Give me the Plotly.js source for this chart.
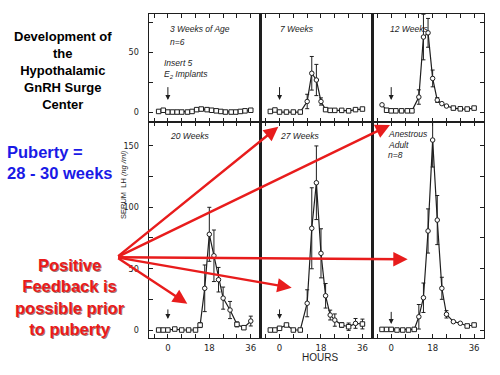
<!DOCTYPE html>
<html>
<head>
<meta charset="utf-8">
<script src="https://cdn.plot.ly/plotly-3.0.1.min.js"></script>
<style>html,body{margin:0;padding:0;background:#fff}#chart{width:500px;height:375px}</style>
</head>
<body>
<div id="chart"></div>
<script>
// ---- data (hours after E2 implant, serum LH ng/ml) ----
const panelTitles = ["3 Weeks of Age", "7 Weeks", "12 Weeks", "20 Weeks", "27 Weeks", "Anestrous"];

const w3Hours = [-4, -2, 0, 2, 4, 6, 8.5, 10.5, 12.5, 14.5, 17, 19, 21, 23, 25, 27.5, 29.5, 31.5, 33.5, 36];
const w3LH    = [0.5, 1.5, 0, 0, 0, 0, 0, 0.5, 2, 2.5, 2, 1.5, 1, 0.5, 0, 0, 0, 0.5, 1, 1.5];
const w3Err   = [0, 0, 0, 0, 0, 0, 0, 0, 0, 0, 0, 0, 0, 0, 0, 0, 0, 0, 0, 0];

const w7Hours = [-4, -2, 0, 3, 6, 9, 12, 14, 16, 18, 20, 22, 24, 27, 30, 33, 36];
const w7LH    = [0.5, 1.7, 0, 0, 0, 0, 8.8, 32.3, 26.7, 8.8, 2, 1.4, 1.4, 1.4, 1, 2, 2.5];
const w7Err   = [0, 0, 0, 0, 0, 0, 6, 14, 13, 3, 1, 0, 0, 0, 0, 0, 0];

const w12Hours = [-4, -2, 0, 2, 4.5, 7, 9, 12, 14, 16, 18, 20, 22, 24, 27, 30, 33, 36];
const w12LH    = [6, 1.5, 1, 1, 1, 1, 1, 12.5, 62.5, 66, 28, 10, 7, 5, 3.3, 2.7, 2.5, 3.3];
const w12Err   = [0, 0, 0, 0, 0, 0, 0, 6, 19, 12, 7, 2, 0, 0, 0, 0, 0, 0];

const w20Hours = [-4, -2, 0, 3, 6, 9, 12, 14, 16, 18, 20, 22, 24, 27, 30, 33, 36];
const w20LH    = [0, 0, 0, 0.8, 0, 0, 0, 4, 34, 78, 60.5, 41, 26, 16.3, 4.6, 1.9, 7.3];
const w20Err   = [0, 0, 0, 0, 0, 0, 0, 2, 19, 22, 21, 10, 9, 7, 2, 1, 4];

const w27Hours = [-4, -2, 0, 3, 6, 9, 12, 14, 16, 18, 20, 22, 24, 27, 30, 33, 36];
const w27LH    = [0, 0, 1.4, 4.1, 0, 0, 21.8, 82.9, 120, 62.5, 27.9, 12.2, 8.1, 4.1, 2.7, 5.4, 4.9];
const w27Err   = [0, 0, 0, 0, 0, 0, 11, 33, 30, 20, 10, 4, 5, 2, 3, 4, 4];

const adultHours = [-4, -2, 0, 2.5, 5, 7.5, 10, 12, 14, 16, 18, 20, 22, 24, 27, 30, 33, 36];
const adultLH    = [0.5, 0.5, 0.5, 0, 0, 0, 0.5, 10.8, 26.3, 80.7, 154.8, 89.6, 34, 12.8, 6.8, 5.5, 3.3, 4.1];
const adultErr   = [0, 0, 0, 0, 0, 0, 0, 10, 12, 18, 22, 20, 9, 3, 0, 0, 0, 0];

const xTickVals = [-6, 0, 6, 12, 18, 24, 30, 36];
const xTickText = ["", "0", "", "", "18", "", "", "36"];
const yTopVals = [0, 25, 50, 75];
const yTopText = ["0", "", "50", ""];
const yBotVals = [0, 25, 50, 75, 100, 125, 150];
const yBotText = ["0", "", "50", "", "100", "", "150"];

// ---- build ----
const series = [
  [w3Hours, w3LH, w3Err], [w7Hours, w7LH, w7Err], [w12Hours, w12LH, w12Err],
  [w20Hours, w20LH, w20Err], [w27Hours, w27LH, w27Err], [adultHours, adultLH, adultErr]
];
const INK = '#1e1e1e';
const NARROW = 'Liberation Sans Narrow, DejaVu Sans Condensed, Arial Narrow, Liberation Sans, sans-serif';
const traces = series.map((s, i) => ({
  type: 'scatter', mode: 'lines+markers',
  x: s[0], y: s[1],
  xaxis: i === 0 ? 'x' : 'x' + (i + 1),
  yaxis: i === 0 ? 'y' : 'y' + (i + 1),
  line: {color: INK, width: 1.2},
  marker: {symbol: s[1].map(v => v < 5 ? 'square' : 'circle'), size: 4.5, color: '#fff', line: {color: INK, width: 1}},
  error_y: {type: 'data', array: s[2], visible: true, color: INK, thickness: 1, width: 2},
  cliponaxis: false, hoverinfo: 'skip'
}));

const L = 149, T = 14, W = 335, H = 324;
const P = (px, py) => ({x: (px - L) / W, y: (T + H - py) / H});

const layout = {
  width: 500, height: 375,
  margin: {l: L, r: 500 - L - W, t: T, b: 375 - T - H},
  paper_bgcolor: '#fff', plot_bgcolor: '#fff',
  showlegend: false,
  font: {family: 'Liberation Sans, Arial, sans-serif', color: INK},
  annotations: []
};

for (let i = 0; i < 6; i++) {
  const c = i % 3, r = Math.floor(i / 3), n = i === 0 ? '' : String(i + 1);
  layout['xaxis' + n] = {
    domain: [c / 3, (c + 1) / 3], anchor: 'y' + n, range: [-8.2, 40.3],
    tickmode: 'array', tickvals: xTickVals, ticktext: xTickText,
    showticklabels: r === 1, ticks: 'inside', ticklen: 4, tickwidth: 1, tickcolor: INK,
    mirror: 'allticks', showline: true, linewidth: 1.3, linecolor: INK,
    showgrid: false, zeroline: false, fixedrange: true,
    tickfont: {size: 9.5, color: INK, family: NARROW}
  };
  layout['yaxis' + n] = {
    domain: r === 0 ? [2 / 3, 1] : [0, 2 / 3], anchor: 'x' + n,
    range: r === 0 ? [-8.3, 81.7] : [-6.5, 169.5],
    tickmode: 'array', tickvals: r === 0 ? yTopVals : yBotVals, ticktext: r === 0 ? yTopText : yBotText,
    side: c === 2 ? 'right' : 'left',
    showticklabels: c === 0, ticks: c === 1 ? '' : 'inside', ticklen: 4, tickwidth: 1, tickcolor: INK,
    ticklabelstandoff: 7,
    mirror: true, showline: true, linewidth: 1.3, linecolor: INK,
    showgrid: false, zeroline: false, fixedrange: true,
    tickfont: {size: 9, color: INK, family: NARROW}
  };
  // implant arrow at hour 0
  const tail = r === 0 ? 22 : (c === 2 ? 16 : 18);
  const tip = r === 0 ? 10 : (c === 2 ? 5 : 9);
  layout.annotations.push({
    xref: 'x' + n, yref: 'y' + n, axref: 'x' + n, ayref: 'y' + n,
    x: 0, y: tip, ax: 0, ay: tail, text: '', showarrow: true,
    arrowhead: 2, arrowsize: 1, arrowwidth: 1, arrowcolor: INK, standoff: 0
  });
}

function txt(px, py, text, opts) {
  const p = P(px, py);
  layout.annotations.push(Object.assign({
    xref: 'paper', yref: 'paper', x: p.x, y: p.y, text: text, showarrow: false,
    xanchor: 'left', yanchor: 'middle', font: {size: 9, color: INK}
  }, opts || {}));
}

// panel labels
const lab = {font: {size: 8.5, color: INK, family: 'Liberation Sans, Arial, sans-serif'}};
txt(168, 29, '<i>' + panelTitles[0] + '</i>', lab);
txt(168, 42, '<i>n=6</i>', lab);
txt(162, 63, '<i>Insert 5</i>', lab);
txt(162, 74, '<i>E<sub>2</sub> Implants</i>', lab);
txt(278, 29, '<i>' + panelTitles[1] + '</i>', lab);
txt(388, 29, '<i>' + panelTitles[2] + '</i>', lab);
txt(168, 136, '<i>' + panelTitles[3] + '</i>', lab);
txt(278, 136, '<i>' + panelTitles[4] + '</i>', lab);
txt(386, 134, '<i>' + panelTitles[5] + '</i>', lab);
txt(386, 145, '<i>Adult</i>', lab);
txt(386, 155, '<i>n=8</i>', lab);

// axis titles
txt(123, 185, 'SERUM  LH <i>(ng /ml)</i>', {xanchor: 'center', textangle: -90, font: {size: 7.5, color: INK}});
txt(320, 357, 'HOURS', {xanchor: 'center', font: {size: 10, color: INK}});

// left side slide text
txt(63, 70.5, '<b>Development of<br>the<br>Hypothalamic<br>GnRH Surge<br>Center</b>',
    {xanchor: 'center', align: 'center', font: {size: 13, color: '#000', family: 'Liberation Sans, Arial, sans-serif'}});
txt(5, 162, '<b>Puberty =<br>28 - 30 weeks</b>',
    {xanchor: 'left', align: 'left', font: {size: 16.5, color: '#1a1ae6', family: 'Liberation Sans, Arial, sans-serif'}});
const posText = '<b>Positive<br>Feedback is<br>possible prior<br>to puberty</b>';
txt(70, 297, posText, {xanchor: 'center', align: 'center', xshift: 1, yshift: -1,
    font: {size: 16.5, color: 'rgba(70,0,0,0.55)', family: 'Liberation Sans, Arial, sans-serif'}});
txt(70, 297, posText, {xanchor: 'center', align: 'center',
    font: {size: 16.5, color: '#ea1a1a', family: 'Liberation Sans, Arial, sans-serif'}});

// red arrows from a common origin
const origin = [116.7, 257.3];
const tips = [[278.3, 126.7], [390, 125], [407.7, 259.3], [291.7, 287.7], [187.3, 303.7]];
tips.forEach(t => {
  const p = P(t[0], t[1]);
  layout.annotations.push({
    xref: 'paper', yref: 'paper', x: p.x, y: p.y,
    ax: origin[0] - t[0], ay: origin[1] - t[1], axref: 'pixel', ayref: 'pixel',
    text: '', showarrow: true, arrowhead: 2, arrowsize: 1.2, arrowwidth: 2.4,
    arrowcolor: '#e81c1c', standoff: 0
  });
});

Plotly.newPlot('chart', traces, layout, {staticPlot: true, displayModeBar: false});
</script>
</body>
</html>
